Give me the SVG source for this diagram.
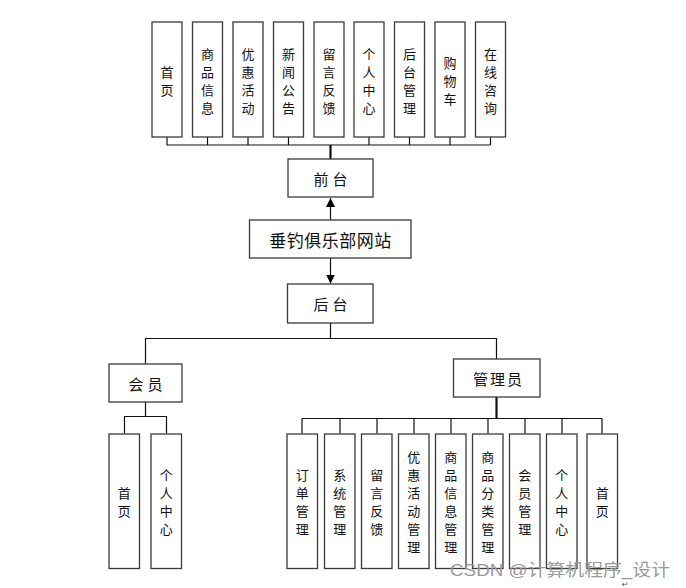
<svg xmlns="http://www.w3.org/2000/svg" width="686" height="588" viewBox="0 0 686 588">
<style>
.box{fill:#fff;stroke:#3a3a3a;stroke-width:1.3}
.t{font-family:"Noto Sans CJK SC","Liberation Sans",sans-serif;font-size:13px;fill:#111;text-anchor:middle;dominant-baseline:central}
.h{font-family:"Noto Sans CJK SC","Liberation Sans",sans-serif;font-size:15px;fill:#111;text-anchor:middle;dominant-baseline:central;letter-spacing:4px}
.ln{fill:none;stroke:#111;stroke-width:1.2}
.lt{fill:none;stroke:#111;stroke-width:2.2}
</style>
<defs>
<marker id="ah" viewBox="0 0 10 10" refX="10" refY="5" markerWidth="9" markerHeight="9" markerUnits="userSpaceOnUse" orient="auto">
<path d="M0,0 L10,5 L0,10 Z" fill="#000"/>
</marker>
</defs>
<rect width="686" height="588" fill="#fff"/>

<g id="connectors">
<path class="ln" d="M167,137V145M207.5,137V145M248,137V145M288.5,137V145M369,137V145M409.5,137V145M450,137V145M490.5,137V145M166.5,145H490.5"/>
<path class="lt" d="M330.5,145V159"/>
<path class="ln" d="M330.5,220V198" marker-end="url(#ah)"/>
<path class="ln" d="M330.5,258V283.5" marker-end="url(#ah)"/>
<path class="ln" d="M330.5,323V338.5H145.5V364M330.5,338.5H496.5V359"/>
<path class="ln" d="M145.5,402V416.5M124.5,433.5V416.5H166.5V433.5"/>
<path class="lt" d="M496.5,397V418.5"/>
<path class="ln" d="M302,418.5H602M302,418.5V433.5M340,418.5V433.5M377,418.5V433.5M414,418.5V433.5M451,418.5V433.5M488,418.5V433.5M525,418.5V433.5M562,418.5V433.5M602,418.5V433.5"/>
</g>

<g id="n-shouye"><rect class="box" x="152" y="22" width="30" height="115"/><text class="t" x="167"><tspan x="167" y="71">首</tspan><tspan x="167" y="89">页</tspan></text></g>
<g id="n-spxx"><rect class="box" x="192.5" y="22" width="30" height="115"/><text class="t"><tspan x="207.5" y="53">商</tspan><tspan x="207.5" y="71">品</tspan><tspan x="207.5" y="89">信</tspan><tspan x="207.5" y="107">息</tspan></text></g>
<g id="n-yhhd"><rect class="box" x="233" y="22" width="30" height="115"/><text class="t"><tspan x="248" y="53">优</tspan><tspan x="248" y="71">惠</tspan><tspan x="248" y="89">活</tspan><tspan x="248" y="107">动</tspan></text></g>
<g id="n-xwgg"><rect class="box" x="273.5" y="22" width="30" height="115"/><text class="t"><tspan x="288.5" y="53">新</tspan><tspan x="288.5" y="71">闻</tspan><tspan x="288.5" y="89">公</tspan><tspan x="288.5" y="107">告</tspan></text></g>
<g id="n-lyfk"><rect class="box" x="314" y="22" width="30" height="115"/><text class="t"><tspan x="329" y="53">留</tspan><tspan x="329" y="71">言</tspan><tspan x="329" y="89">反</tspan><tspan x="329" y="107">馈</tspan></text></g>
<g id="n-grzx"><rect class="box" x="354" y="22" width="30" height="115"/><text class="t"><tspan x="369" y="53">个</tspan><tspan x="369" y="71">人</tspan><tspan x="369" y="89">中</tspan><tspan x="369" y="107">心</tspan></text></g>
<g id="n-htgl"><rect class="box" x="394.5" y="22" width="30" height="115"/><text class="t"><tspan x="409.5" y="53">后</tspan><tspan x="409.5" y="71">台</tspan><tspan x="409.5" y="89">管</tspan><tspan x="409.5" y="107">理</tspan></text></g>
<g id="n-gwc"><rect class="box" x="435" y="22" width="30" height="115"/><text class="t"><tspan x="450" y="62">购</tspan><tspan x="450" y="80">物</tspan><tspan x="450" y="98">车</tspan></text></g>
<g id="n-zxzx"><rect class="box" x="475.5" y="22" width="30" height="115"/><text class="t"><tspan x="490.5" y="53">在</tspan><tspan x="490.5" y="71">线</tspan><tspan x="490.5" y="89">咨</tspan><tspan x="490.5" y="107">询</tspan></text></g>

<g id="n-qiantai"><rect class="box" x="288" y="159" width="85" height="38"/><text class="h" x="332.5" y="178">前台</text></g>
<g id="n-root"><rect class="box" x="249.5" y="220" width="161.5" height="38"/><text class="t" x="330.5" y="239" style="font-size:17px;letter-spacing:0.5px">垂钓俱乐部网站</text></g>
<g id="n-houtai"><rect class="box" x="287.5" y="284" width="85.5" height="39"/><text class="h" x="332.5" y="303.5">后台</text></g>
<g id="n-huiyuan"><rect class="box" x="109" y="364" width="73" height="38"/><text class="h" x="147.5" y="383">会员</text></g>
<g id="n-admin"><rect class="box" x="453.5" y="359" width="86.5" height="38"/><text class="h" x="498.5" y="378" style="letter-spacing:2px">管理员</text></g>

<g id="n-m-shouye"><rect class="box" x="109" y="434" width="30.5" height="134.5"/><text class="t"><tspan x="124.3" y="492">首</tspan><tspan x="124.3" y="510">页</tspan></text></g>
<g id="n-m-grzx"><rect class="box" x="151" y="434" width="30.5" height="134.5"/><text class="t"><tspan x="166.3" y="474">个</tspan><tspan x="166.3" y="492">人</tspan><tspan x="166.3" y="510">中</tspan><tspan x="166.3" y="528">心</tspan></text></g>

<g id="n-a-ddgl"><rect class="box" x="287" y="434" width="30.5" height="134.5"/><text class="t"><tspan x="302.2" y="474">订</tspan><tspan x="302.2" y="492">单</tspan><tspan x="302.2" y="510">管</tspan><tspan x="302.2" y="528">理</tspan></text></g>
<g id="n-a-xtgl"><rect class="box" x="324.5" y="434" width="30.5" height="134.5"/><text class="t"><tspan x="339.8" y="474">系</tspan><tspan x="339.8" y="492">统</tspan><tspan x="339.8" y="510">管</tspan><tspan x="339.8" y="528">理</tspan></text></g>
<g id="n-a-lyfk"><rect class="box" x="361.5" y="434" width="30.5" height="134.5"/><text class="t"><tspan x="376.8" y="474">留</tspan><tspan x="376.8" y="492">言</tspan><tspan x="376.8" y="510">反</tspan><tspan x="376.8" y="528">馈</tspan></text></g>
<g id="n-a-yhhd"><rect class="box" x="398.5" y="434" width="30.5" height="134.5"/><text class="t"><tspan x="413.8" y="456">优</tspan><tspan x="413.8" y="474">惠</tspan><tspan x="413.8" y="492">活</tspan><tspan x="413.8" y="510">动</tspan><tspan x="413.8" y="528">管</tspan><tspan x="413.8" y="546">理</tspan></text></g>
<g id="n-a-spxx"><rect class="box" x="435.5" y="434" width="30.5" height="134.5"/><text class="t"><tspan x="450.8" y="456">商</tspan><tspan x="450.8" y="474">品</tspan><tspan x="450.8" y="492">信</tspan><tspan x="450.8" y="510">息</tspan><tspan x="450.8" y="528">管</tspan><tspan x="450.8" y="546">理</tspan></text></g>
<g id="n-a-spfl"><rect class="box" x="472.5" y="434" width="30.5" height="134.5"/><text class="t"><tspan x="487.8" y="456">商</tspan><tspan x="487.8" y="474">品</tspan><tspan x="487.8" y="492">分</tspan><tspan x="487.8" y="510">类</tspan><tspan x="487.8" y="528">管</tspan><tspan x="487.8" y="546">理</tspan></text></g>
<g id="n-a-hygl"><rect class="box" x="509.5" y="434" width="30.5" height="134.5"/><text class="t"><tspan x="524.8" y="474">会</tspan><tspan x="524.8" y="492">员</tspan><tspan x="524.8" y="510">管</tspan><tspan x="524.8" y="528">理</tspan></text></g>
<g id="n-a-grzx"><rect class="box" x="546.5" y="434" width="30.5" height="134.5"/><text class="t"><tspan x="561.8" y="474">个</tspan><tspan x="561.8" y="492">人</tspan><tspan x="561.8" y="510">中</tspan><tspan x="561.8" y="528">心</tspan></text></g>
<g id="n-a-shouye"><rect class="box" x="587" y="434" width="30.5" height="134.5"/><text class="t"><tspan x="602.2" y="492">首</tspan><tspan x="602.2" y="510">页</tspan></text></g>

<text x="450" y="576" textLength="220" lengthAdjust="spacingAndGlyphs" style="font-family:'Liberation Sans','Noto Sans CJK SC',sans-serif;font-size:17px;fill:#9a9a9a">CSDN @计算机程序_设计</text>
<text x="622" y="587" style="font-family:'DejaVu Sans',sans-serif;font-size:8px;fill:#555">↵</text>
</svg>
